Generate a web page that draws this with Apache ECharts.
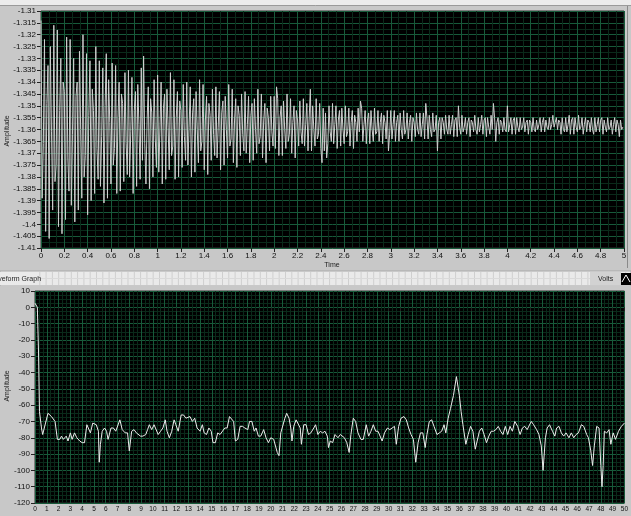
<!DOCTYPE html>
<html><head><meta charset="utf-8">
<style>html,body{margin:0;padding:0;background:#c8c8c8;overflow:hidden}#c{width:631px;height:516px}</style>
<script src="https://cdn.jsdelivr.net/npm/echarts@6/dist/echarts.min.js"></script>
</head><body><div id="c"></div><script>
// ---- Top graph: time waveform (sample spacing dt, values in Volts) ----
const timeStart = 0;
const timeStep = 0.01;
const waveValues = [
-1.314,-1.389,-1.366,-1.322,-1.403,-1.349,-1.333,-1.406,-1.325,-1.361,-1.394,-1.316,-1.382,-1.375,-1.318,-1.401,-1.352,-1.330,-1.404,-1.340,-1.344,-1.398,-1.321,-1.372,-1.386,
-1.322,-1.392,-1.362,-1.330,-1.399,-1.346,-1.340,-1.394,-1.327,-1.360,-1.389,-1.320,-1.380,-1.371,-1.328,-1.396,-1.354,-1.331,-1.390,-1.343,-1.352,-1.387,-1.325,-1.368,-1.381,
-1.331,-1.384,-1.363,-1.334,-1.391,-1.350,-1.328,-1.389,-1.339,-1.357,-1.383,-1.332,-1.375,-1.368,-1.333,-1.387,-1.355,-1.340,-1.386,-1.345,-1.349,-1.382,-1.336,-1.366,-1.379,
-1.335,-1.380,-1.361,-1.338,-1.387,-1.352,-1.344,-1.384,-1.341,-1.358,-1.381,-1.334,-1.373,-1.329,-1.366,-1.383,-1.356,-1.342,-1.385,-1.347,-1.353,-1.380,-1.339,-1.364,-1.376,
-1.337,-1.378,-1.360,-1.340,-1.383,-1.351,-1.345,-1.381,-1.343,-1.359,-1.377,-1.336,-1.371,-1.367,-1.339,-1.381,-1.355,-1.344,-1.380,-1.348,-1.352,-1.376,-1.341,-1.363,-1.373,
-1.340,-1.375,-1.359,-1.342,-1.380,-1.353,-1.347,-1.378,-1.344,-1.360,-1.374,-1.339,-1.369,-1.365,-1.341,-1.377,-1.356,-1.346,-1.379,-1.349,-1.354,-1.373,-1.343,-1.362,-1.371,
-1.342,-1.372,-1.359,-1.344,-1.377,-1.353,-1.348,-1.375,-1.346,-1.360,-1.372,-1.341,-1.367,-1.364,-1.343,-1.374,-1.356,-1.347,-1.376,-1.350,-1.354,-1.371,-1.345,-1.362,-1.369,
-1.344,-1.370,-1.358,-1.346,-1.374,-1.354,-1.349,-1.373,-1.347,-1.360,-1.370,-1.343,-1.366,-1.363,-1.345,-1.372,-1.356,-1.349,-1.374,-1.351,-1.355,-1.369,-1.346,-1.361,-1.367,
-1.346,-1.368,-1.342,-1.347,-1.371,-1.355,-1.350,-1.371,-1.348,-1.360,-1.368,-1.345,-1.365,-1.362,-1.347,-1.370,-1.357,-1.350,-1.372,-1.352,-1.356,-1.367,-1.348,-1.361,-1.366,
-1.347,-1.367,-1.358,-1.349,-1.369,-1.355,-1.343,-1.369,-1.350,-1.360,-1.367,-1.347,-1.364,-1.362,-1.349,-1.368,-1.374,-1.351,-1.369,-1.353,-1.372,-1.366,-1.350,-1.361,-1.365,
-1.349,-1.366,-1.358,-1.350,-1.368,-1.356,-1.352,-1.367,-1.351,-1.360,-1.366,-1.350,-1.363,-1.361,-1.351,-1.367,-1.357,-1.352,-1.368,-1.354,-1.357,-1.365,-1.351,-1.361,-1.348,
-1.351,-1.365,-1.358,-1.352,-1.366,-1.356,-1.353,-1.366,-1.352,-1.360,-1.365,-1.351,-1.362,-1.361,-1.352,-1.365,-1.357,-1.353,-1.366,-1.354,-1.357,-1.364,-1.352,-1.369,-1.362,
-1.352,-1.364,-1.358,-1.352,-1.365,-1.357,-1.354,-1.365,-1.353,-1.360,-1.364,-1.352,-1.362,-1.360,-1.353,-1.364,-1.357,-1.354,-1.365,-1.355,-1.357,-1.363,-1.353,-1.360,-1.362,
-1.353,-1.363,-1.358,-1.353,-1.364,-1.349,-1.355,-1.364,-1.354,-1.360,-1.363,-1.353,-1.361,-1.360,-1.354,-1.369,-1.357,-1.355,-1.364,-1.355,-1.357,-1.362,-1.354,-1.360,-1.362,
-1.354,-1.362,-1.358,-1.354,-1.363,-1.356,-1.355,-1.363,-1.350,-1.359,-1.362,-1.354,-1.361,-1.359,-1.355,-1.362,-1.357,-1.355,-1.363,-1.356,-1.357,-1.361,-1.354,-1.360,-1.362,
-1.355,-1.361,-1.358,-1.354,-1.362,-1.356,-1.355,-1.363,-1.355,-1.359,-1.362,-1.354,-1.360,-1.349,-1.355,-1.365,-1.357,-1.355,-1.362,-1.356,-1.357,-1.361,-1.355,-1.360,-1.361,
-1.350,-1.361,-1.358,-1.355,-1.362,-1.356,-1.355,-1.362,-1.355,-1.359,-1.361,-1.355,-1.360,-1.359,-1.355,-1.361,-1.357,-1.356,-1.362,-1.356,-1.357,-1.361,-1.355,-1.360,-1.361,
-1.356,-1.360,-1.358,-1.355,-1.361,-1.357,-1.355,-1.361,-1.356,-1.359,-1.360,-1.355,-1.360,-1.358,-1.354,-1.359,-1.357,-1.355,-1.360,-1.356,-1.357,-1.362,-1.355,-1.360,-1.361,
-1.355,-1.361,-1.358,-1.354,-1.362,-1.356,-1.355,-1.362,-1.355,-1.359,-1.361,-1.354,-1.360,-1.359,-1.355,-1.362,-1.358,-1.355,-1.361,-1.356,-1.357,-1.361,-1.355,-1.360,-1.362,
-1.355,-1.361,-1.358,-1.355,-1.361,-1.356,-1.355,-1.362,-1.356,-1.359,-1.361,-1.355,-1.360,-1.359,-1.356,-1.362,-1.358,-1.355,-1.361,-1.356,-1.358,-1.363,-1.356,-1.360,-1.359
];

// ---- Bottom graph: spectrum (frequency, amplitude dB) ----
const specFreq = [0,0.2,0.3,0.38,0.55,0.65,0.8,1.1,1.4,1.7,1.9,2.1,2.25,2.4,2.65,2.8,3.0,3.15,3.35,3.55,3.8,4.0,4.2,4.4,4.55,4.7,4.9,5.2,5.38,5.45,5.55,5.7,5.9,6.07,6.2,6.45,6.65,6.85,7.0,7.2,7.4,7.65,7.85,8.0,8.2,8.4,8.6,8.75,8.95,9.15,9.4,9.55,9.7,9.9,10.1,10.25,10.45,10.65,10.85,11.05,11.2,11.4,11.6,11.8,11.95,12.15,12.4,12.6,12.8,12.95,13.15,13.35,13.55,13.75,14.0,14.2,14.35,14.55,14.75,14.95,15.1,15.3,15.5,15.7,15.85,16.1,16.3,16.5,16.65,16.85,17.0,17.2,17.4,17.6,17.8,18.05,18.2,18.4,18.6,18.75,18.95,19.15,19.4,19.6,19.8,20.0,20.25,20.4,20.55,20.7,20.85,21.0,21.2,21.35,21.55,21.7,21.8,21.95,22.15,22.3,22.5,22.6,22.8,23.0,23.2,23.4,23.65,23.8,24.0,24.2,24.4,24.6,24.8,24.9,25.05,25.25,25.45,25.7,25.9,26.05,26.25,26.45,26.65,26.8,27.0,27.2,27.4,27.65,27.85,28.1,28.3,28.5,28.7,28.9,29.1,29.25,29.45,29.65,29.9,30.1,30.3,30.5,30.65,30.85,31.05,31.3,31.5,31.7,31.9,32.1,32.3,32.5,32.7,32.9,33.1,33.25,33.45,33.65,33.85,34.1,34.3,34.5,34.7,34.85,35.05,35.25,35.5,35.75,36.0,36.15,36.3,36.55,36.75,36.95,37.15,37.35,37.5,37.7,37.9,38.1,38.3,38.5,38.7,38.9,39.1,39.3,39.5,39.7,39.9,40.1,40.3,40.5,40.7,40.95,41.15,41.35,41.55,41.75,41.9,42.1,42.3,42.55,42.75,42.95,43.1,43.3,43.45,43.65,43.9,44.1,44.25,44.45,44.65,44.85,45.05,45.3,45.5,45.7,45.9,46.1,46.35,46.55,46.8,46.95,47.15,47.3,47.45,47.65,47.85,48.0,48.1,48.2,48.3,48.5,48.7,48.85,49.05,49.25,49.5,49.75,50];
const specAmp = [2.5,0,-28,-64,-74,-78,-78,-65,-67,-70,-81,-81,-79,-81,-79,-82,-77,-81,-77,-80,-82,-83,-83,-72,-72,-77,-71,-72,-76,-95,-84,-76,-74,-76,-81,-74,-74,-76,-77,-69,-75,-77,-77,-88,-76,-75,-77,-77,-79,-79,-78,-75,-72,-75,-72,-72,-78,-76,-74,-69,-76,-80,-76,-69,-72,-76,-66,-66,-68,-68,-67,-70,-68,-74,-76,-72,-77,-78,-74,-76,-83,-83,-77,-78,-79,-74,-74,-67,-67,-70,-82,-81,-73,-73,-74,-75,-70,-70,-76,-74,-79,-79,-75,-80,-83,-80,-81,-81,-89,-91,-77,-76,-68,-65,-68,-74,-82,-73,-69,-68,-74,-84,-72,-72,-78,-77,-74,-72,-78,-76,-77,-76,-79,-86,-82,-83,-78,-80,-78,-78,-80,-83,-89,-78,-68,-70,-77,-81,-81,-72,-79,-76,-72,-76,-76,-77,-82,-77,-74,-75,-74,-73,-84,-73,-68,-67,-69,-74,-78,-81,-95,-83,-77,-77,-86,-78,-70,-69,-73,-78,-77,-76,-72,-77,-68,-62,-54,-42.5,-54,-64,-72,-84,-78,-73,-76,-87,-88,-76,-74,-78,-83,-79,-76,-76,-75,-73,-76,-78,-73,-78,-73,-76,-70,-73,-78,-74,-73,-75,-74,-70,-72,-75,-78,-85,-100,-80,-74,-72,-76,-79,-74,-73,-77,-79,-77,-80,-77,-80,-78,-77,-72,-73,-78,-80,-88,-97,-85,-73,-74,-97,-110,-97,-76,-77,-75,-84,-77,-81,-76,-73,-71];

const waveData = waveValues.map((v, i) => [timeStart + i * timeStep, v]);
const specData = specFreq.map((f, i) => [f, specAmp[i]]);

const FONT = 'Liberation Sans';
const MAJOR = '#175a3a', MINOR = '#0a2a1a';
const chart = echarts.init(document.getElementById('c'));

const stripLines = [];
for (let x = 2; x < 631; x += 6.3) {
  stripLines.push({type:'line', shape:{x1:x, y1:272, x2:x, y2:285}, style:{stroke:'#cfcfcf', lineWidth:1}, silent:true});
}

function axisCommon(extra) {
  return Object.assign({
    type: 'value',
    axisLine: {show: false},
    axisTick: {show: true, length: 4, lineStyle: {color: '#222'}},
    splitLine: {show: true, lineStyle: {color: MAJOR, width: 1}},
    minorSplitLine: {show: true, lineStyle: {color: MINOR, width: 1}}
  }, extra);
}

chart.setOption({
  animation: false,
  backgroundColor: '#c8c8c8',
  grid: [
    {left: 41, top: 11, width: 583, height: 237, show: true, backgroundColor: '#000', borderColor: '#333', borderWidth: 1},
    {left: 35, top: 291, width: 596, height: 212, show: true, backgroundColor: '#000', borderColor: '#333', borderWidth: 1}
  ],
  xAxis: [
    axisCommon({gridIndex: 0, min: 0, max: 5, interval: 0.2, minorTick: {show: false, splitNumber: 3},
      axisLabel: {fontFamily: FONT, fontSize: 8, color: '#111', margin: 4,
        formatter: v => String(parseFloat(v.toFixed(2)))}}),
    axisCommon({gridIndex: 1, min: 0, max: 50, interval: 1, minorTick: {show: false, splitNumber: 3},
      axisLabel: {fontFamily: FONT, fontSize: 6.5, color: '#111', margin: 3}})
  ],
  yAxis: [
    axisCommon({gridIndex: 0, min: -1.41, max: -1.31, interval: 0.005, minorTick: {show: false, splitNumber: 2},
      axisLabel: {fontFamily: FONT, fontSize: 8, color: '#111', margin: 5,
        formatter: v => String(parseFloat(v.toFixed(3)))}}),
    axisCommon({gridIndex: 1, min: -120, max: 10, interval: 10, minorTick: {show: false, splitNumber: 4},
      axisLabel: {fontFamily: FONT, fontSize: 8, color: '#111', margin: 5}})
  ],
  series: [
    {type: 'line', xAxisIndex: 0, yAxisIndex: 0, data: waveData, symbol: 'none', silent: true,
      lineStyle: {color: '#cfcfcf', width: 1}},
    {type: 'line', xAxisIndex: 1, yAxisIndex: 1, data: specData, symbol: 'none', silent: true,
      lineStyle: {color: '#ececec', width: 1}}
  ],
  graphic: [
    {type: 'rect', shape: {x: 0, y: 0, width: 631, height: 5}, style: {fill: '#ececec'}, silent: true},
    {type: 'line', shape: {x1: 0, y1: 5.5, x2: 631, y2: 5.5}, style: {stroke: '#9a9a9a'}, silent: true},
    {type: 'line', shape: {x1: 627.5, y1: 6, x2: 627.5, y2: 268}, style: {stroke: '#8a8a8a'}, silent: true},
    {type: 'rect', shape: {x: 0, y: 271, width: 631, height: 15}, style: {fill: '#eaeaea', stroke: '#a8a8a8', lineWidth: 1}, silent: true},
    ...stripLines,
    {type: 'line', shape: {x1: 0, y1: 278.5, x2: 631, y2: 278.5}, style: {stroke: '#dadada'}, silent: true},
    {type: 'rect', shape: {x: 0, y: 272, width: 38, height: 13}, style: {fill: '#eaeaea'}, silent: true},
    {type: 'text', x: -12, y: 279, style: {text: 'Waveform Graph', font: '7px "Liberation Sans"', fill: '#222', verticalAlign: 'middle'}, silent: true},
    {type: 'rect', shape: {x: 590, y: 272, width: 31, height: 13}, style: {fill: '#d2d2d2'}, silent: true},
    {type: 'text', x: 598, y: 279, style: {text: 'Volts', font: '7px "Liberation Sans"', fill: '#222', verticalAlign: 'middle'}, silent: true},
    {type: 'rect', shape: {x: 621, y: 273, width: 10, height: 12}, style: {fill: '#000'}, silent: true},
    {type: 'polyline', shape: {points: [[622, 282], [626, 275], [630, 282]]}, style: {stroke: '#fff', lineWidth: 1, fill: null}, silent: true},
    {type: 'rect', shape: {x: 0, y: 286, width: 631, height: 4}, style: {fill: '#c8c8c8'}, silent: true},
    {type: 'text', x: 332, y: 265, style: {text: 'Time', font: '7px "Liberation Sans"', fill: '#222', align: 'center', verticalAlign: 'middle'}, silent: true},
    {type: 'text', x: 7, y: 131, rotation: Math.PI / 2, style: {text: 'Amplitude', font: '7px "Liberation Sans"', fill: '#222', align: 'center', verticalAlign: 'middle'}, silent: true},
    {type: 'text', x: 7, y: 386, rotation: Math.PI / 2, style: {text: 'Amplitude', font: '7px "Liberation Sans"', fill: '#222', align: 'center', verticalAlign: 'middle'}, silent: true}
  ]
});
</script></body></html>
